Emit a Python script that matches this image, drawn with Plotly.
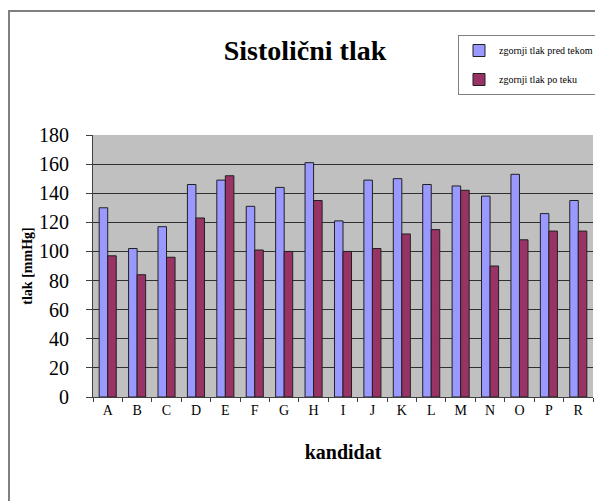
import plotly.graph_objects as go

kandidati = ["A", "B", "C", "D", "E", "F", "G", "H", "I", "J", "K", "L", "M", "N", "O", "P", "R"]
pred_tekom = [130, 102, 117, 146, 149, 131, 144, 161, 121, 149, 150, 146, 145, 138, 153, 126, 135]
po_teku = [97, 84, 96, 123, 152, 101, 100, 135, 100, 102, 112, 115, 142, 90, 108, 114, 114]
y_ticks = [0, 20, 40, 60, 80, 100, 120, 140, 160, 180]

serif = "Liberation Serif"

# page body has an 8px margin, so the figure starts at (8, 8) on screen
W, H = 595, 493
L, T, R, B = 85, 127, 10, 104
PW, PH = W - L - R, H - T - B

fig = go.Figure()
fig.add_trace(go.Bar(x=kandidati, y=pred_tekom, name="zgornji tlak pred tekom",
                     legendgroup="a",
                     marker=dict(color="#9999FF", line=dict(color="#202020", width=1))))
fig.add_trace(go.Bar(x=kandidati, y=po_teku, name="zgornji tlak po teku",
                     legendgroup="b",
                     marker=dict(color="#993366", line=dict(color="#202020", width=1))))

fig.update_layout(
    width=W, height=H,
    margin=dict(l=L, r=R, t=T, b=B, autoexpand=False),
    paper_bgcolor="white",
    plot_bgcolor="#C0C0C0",
    barmode="group",
    bargap=0.42,
    bargroupgap=0,
    font=dict(family=serif, color="black"),
    title=dict(text="<b>Sistolični tlak</b>", x=(297 - L) / PW, xanchor="center", xref="paper",
               y=1 - 42 / H, yanchor="middle",
               font=dict(family=serif, size=28, color="black")),
    legend=dict(x=(450 - L) / PW, y=(T + PH - 27) / PH, xanchor="left", yanchor="top",
                bgcolor="white", bordercolor="#808080", borderwidth=1,
                font=dict(family=serif, size=10, color="black"),
                tracegroupgap=10, itemwidth=30),
    showlegend=True,
)

fig.update_xaxes(
    type="category",
    showgrid=False,
    showline=True, linecolor="#404040", linewidth=1,
    ticks="outside", tickson="boundaries", ticklen=4, tickcolor="#404040",
    tickfont=dict(family=serif, size=14, color="black"),
    title=dict(text="<b>kandidat</b>", font=dict(family=serif, size=20, color="black"), standoff=28),
)
fig.update_yaxes(
    range=[0, 180],
    tickvals=y_ticks,
    showgrid=True, gridcolor="#303030", gridwidth=1,
    showline=True, linecolor="#404040", linewidth=1,
    ticks="outside", ticklen=6, tickcolor="#404040",
    ticklabelstandoff=13,
    tickfont=dict(family=serif, size=20, color="black"),
    title=dict(text="<b>tlak [mmHg]</b>", font=dict(family=serif, size=14, color="black"), standoff=3),
    zeroline=False,
)

# outer chart frame (left and top edges visible)
fig.add_shape(type="rect", xref="paper", yref="paper",
              x0=(1 - L) / PW, x1=1.3, y0=-0.6, y1=(T + PH - 3) / PH,
              line=dict(color="#808080", width=2), layer="below")

fig.write_html("out.html")
